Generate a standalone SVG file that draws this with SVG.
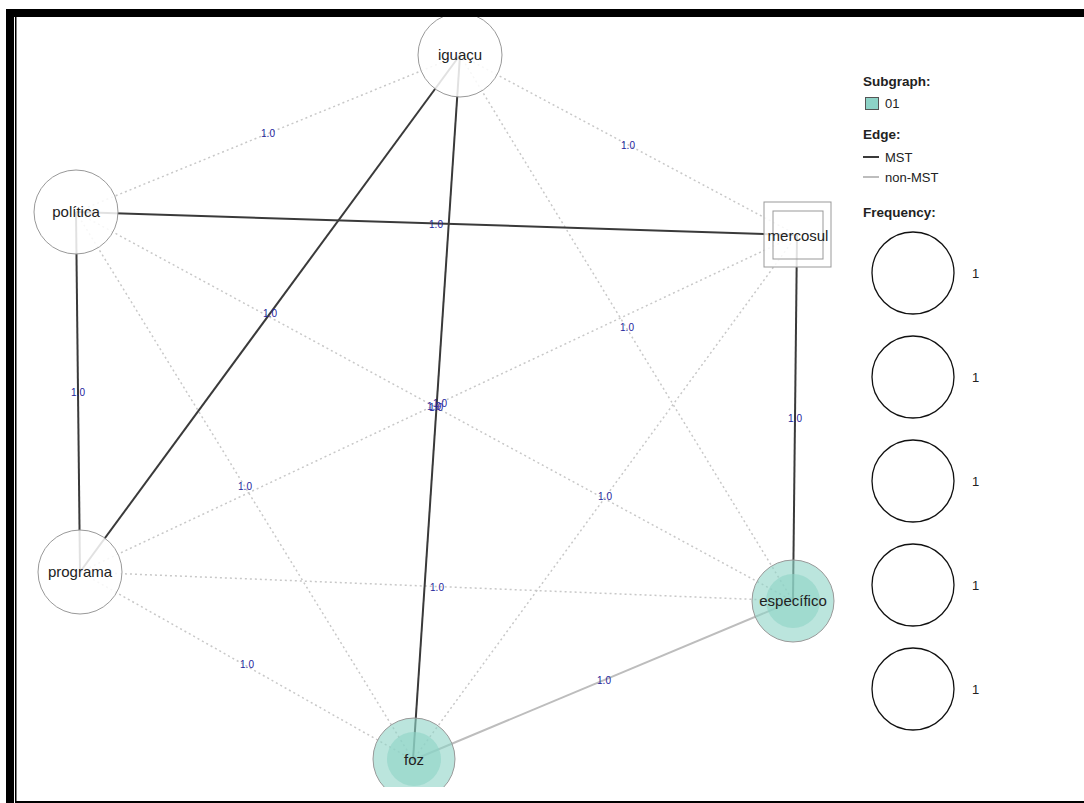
<svg xmlns="http://www.w3.org/2000/svg" width="1084" height="803" viewBox="0 0 1084 803">
<style>
.mst{stroke:#3a3a3a;stroke-width:2;fill:none}
.non{stroke:#bdbdbd;stroke-width:2;fill:none}
.dot{stroke:#c8c8c8;stroke-width:1.5;stroke-dasharray:2,3;fill:none}
.el{font-family:"Liberation Sans",Arial,sans-serif;font-size:10px;fill:#24249c;text-anchor:middle}
.node{fill:#fff;fill-opacity:0.85;stroke:#999;stroke-width:1}
.sub{fill:#8dd3c7;fill-opacity:0.6;stroke:#999;stroke-width:1}
.subin{fill:#8dd3c7;fill-opacity:0.6;stroke:none}
.nl{font-family:"Liberation Sans",Arial,sans-serif;font-size:15px;fill:#222;text-anchor:middle}
.lt{font-family:"Liberation Sans",Arial,sans-serif;font-size:13px;fill:#222}
.lb{font-family:"Liberation Sans",Arial,sans-serif;font-size:13.5px;font-weight:bold;fill:#222}
.fc{fill:#fff;stroke:#111;stroke-width:1.3}
</style>
<defs>
<clipPath id="cp"><rect x="16" y="17" width="1068" height="770"/></clipPath>
</defs>
<rect x="0" y="0" width="1084" height="803" fill="#fff"/>
<g clip-path="url(#cp)">
<g id="connectors">
<line class="dot" x1="460" y1="55" x2="76" y2="212"/>
<line class="dot" x1="460" y1="55" x2="797" y2="235"/>
<line class="dot" x1="460" y1="55" x2="793" y2="601"/>
<line class="dot" x1="797" y1="235" x2="80" y2="572"/>
<line class="dot" x1="76" y1="212" x2="793" y2="601"/>
<line class="dot" x1="76" y1="212" x2="413" y2="760"/>
<line class="dot" x1="797" y1="235" x2="413" y2="760"/>
<line class="dot" x1="80" y1="572" x2="793" y2="601"/>
<line class="dot" x1="80" y1="572" x2="413" y2="760"/>
<line class="non" x1="413" y1="760" x2="793" y2="601"/>
<line class="mst" x1="76" y1="212" x2="797" y2="235"/>
<line class="mst" x1="76" y1="212" x2="80" y2="572"/>
<line class="mst" x1="460" y1="55" x2="80" y2="572"/>
<line class="mst" x1="460" y1="55" x2="413" y2="760"/>
<line class="mst" x1="797" y1="235" x2="793" y2="601"/>
<text class="el" x="268" y="137">1.0</text>
<text class="el" x="628" y="149">1.0</text>
<text class="el" x="436" y="228">1.0</text>
<text class="el" x="270" y="317">1.0</text>
<text class="el" x="627" y="331">1.0</text>
<text class="el" x="78" y="396">1.0</text>
<text class="el" x="436" y="411">1.0</text>
<text class="el" x="434" y="410">1.0</text>
<text class="el" x="440" y="407">1.0</text>
<text class="el" x="795" y="422">1.0</text>
<text class="el" x="245" y="490">1.0</text>
<text class="el" x="605" y="500">1.0</text>
<text class="el" x="437" y="591">1.0</text>
<text class="el" x="247" y="668">1.0</text>
<text class="el" x="604" y="684">1.0</text>
</g>
<g id="node-iguacu">
<circle class="node" cx="460" cy="55" r="42"/>
<text class="nl" x="460" y="60">iguaçu</text>
</g>
<g id="node-politica">
<circle class="node" cx="76" cy="212" r="42"/>
<text class="nl" x="76" y="217">política</text>
</g>
<g id="node-mercosul">
<rect class="node" x="764" y="202" width="67" height="65"/>
<rect x="773" y="211" width="50" height="48" fill="none" stroke="#999" stroke-width="1"/>
<text class="nl" x="798" y="241">mercosul</text>
</g>
<g id="node-programa">
<circle class="node" cx="80" cy="572" r="42"/>
<text class="nl" x="80" y="577">programa</text>
</g>
<g id="node-especifico">
<circle class="sub" cx="793" cy="601" r="41"/>
<circle class="subin" cx="793" cy="601" r="27"/>
<text class="nl" x="793" y="606">específico</text>
</g>
<g id="node-foz">
<circle class="sub" cx="414" cy="759" r="41"/>
<circle class="subin" cx="414" cy="759" r="27"/>
<text class="nl" x="414" y="765">foz</text>
</g>
</g>
<g id="legend">
<text class="lb" x="863" y="86">Subgraph:</text>
<rect x="865.5" y="97.5" width="13" height="12" fill="#8dd3c7" stroke="#555" stroke-width="1"/>
<text class="lt" x="885" y="108">01</text>
<text class="lb" x="863" y="139">Edge:</text>
<line x1="863" y1="157" x2="879" y2="157" stroke="#3a3a3a" stroke-width="2"/>
<text class="lt" x="885" y="162">MST</text>
<line x1="863" y1="177" x2="879" y2="177" stroke="#bdbdbd" stroke-width="2"/>
<text class="lt" x="885" y="182">non-MST</text>
<text class="lb" x="863" y="217">Frequency:</text>
<circle class="fc" cx="913" cy="273" r="41"/>
<text class="lt" x="972" y="278">1</text>
<circle class="fc" cx="913" cy="377" r="41"/>
<text class="lt" x="972" y="382">1</text>
<circle class="fc" cx="913" cy="481" r="41"/>
<text class="lt" x="972" y="486">1</text>
<circle class="fc" cx="913" cy="585" r="41"/>
<text class="lt" x="972" y="590">1</text>
<circle class="fc" cx="913" cy="689" r="41"/>
<text class="lt" x="972" y="694">1</text>
</g>
<g id="frame">
<rect x="6" y="9" width="1078" height="8" fill="#000"/>
<rect x="6" y="9" width="8" height="794" fill="#000"/>
<rect x="15" y="17" width="1.5" height="786" fill="#000"/>
<rect x="15" y="801" width="1069" height="2" fill="#000"/>
</g>
</svg>
